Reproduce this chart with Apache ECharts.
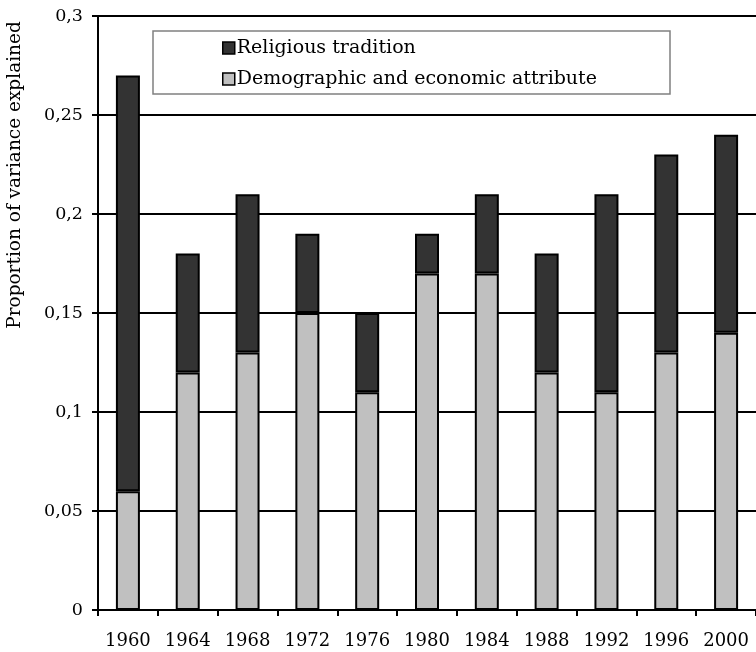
<!DOCTYPE html>
<html>
<head>
<meta charset="utf-8">
<script src="https://cdn.jsdelivr.net/npm/echarts@6/dist/echarts.min.js"></script>
<style>html,body{margin:0;padding:0;background:#fff}#c{width:756px;height:652px}</style>
</head>
<body>
<div id="c"></div>
<script>
var years = ['1960','1964','1968','1972','1976','1980','1984','1988','1992','1996','2000'];
var demographic = [0.06,0.12,0.13,0.15,0.11,0.17,0.17,0.12,0.11,0.13,0.14];
var religious = [0.21,0.06,0.08,0.04,0.04,0.02,0.04,0.06,0.10,0.10,0.10];
var yTicks = [0,0.05,0.1,0.15,0.2,0.25,0.3];

var FONT = 'DejaVu Serif';
var chart = echarts.init(document.getElementById('c'));
chart.setOption({
  animation: false,
  backgroundColor: '#fff',
  textStyle: {fontFamily: FONT, color: '#000'},
  grid: {left: 98, top: 16, bottom: 42, width: 660, containLabel: false},
  legend: {
    orient: 'vertical', left: 222, top: 37, itemGap: 9, z: 10,
    itemWidth: 12, itemHeight: 12, padding: 0,
    textStyle: {fontFamily: FONT, fontSize: 19, color: '#000', padding: [0,0,0,-3], lineHeight: 22},
    data: [
      {name: 'Religious tradition', icon: 'rect', itemStyle: {color: '#333333', borderColor: '#000', borderWidth: 1.5}},
      {name: 'Demographic and economic attribute', icon: 'rect', itemStyle: {color: '#c0c0c0', borderColor: '#000', borderWidth: 1.5}}
    ]
  },
  graphic: [
    {type: 'rect', shape: {x: 153, y: 31, width: 517, height: 63}, style: {fill: '#fff', stroke: '#808080', lineWidth: 1.5}, z: 5},
    {type: 'text', x: 15, y: 175, rotation: Math.PI/2, style: {text: 'Proportion of variance explained', font: '18.5px "DejaVu Serif"', fill: '#000', textAlign: 'center', textVerticalAlign: 'middle'}}
  ],
  xAxis: {
    type: 'category', data: years, boundaryGap: true,
    axisLine: {lineStyle: {color: '#000', width: 2}},
    axisTick: {show: true, alignWithLabel: false, length: 6, lineStyle: {color: '#000', width: 2}},
    axisLabel: {fontFamily: FONT, fontSize: 18, color: '#000', margin: 22, interval: 0}
  },
  yAxis: {
    type: 'value', min: 0, max: 0.3, interval: 0.05,
    axisLine: {show: true, lineStyle: {color: '#000', width: 2}},
    axisTick: {show: true, length: 6, lineStyle: {color: '#000', width: 2}},
    splitLine: {show: true, lineStyle: {color: '#000', width: 2}},
    axisLabel: {fontFamily: FONT, fontSize: 17.5, color: '#000', margin: 15,
      formatter: function(v){ var i = yTicks.findIndex(function(t){return Math.abs(t-v)<1e-9;}); return String(i>=0?yTicks[i]:v).replace('.', ','); }}
  },
  series: [
    {name: 'Demographic and economic attribute', type: 'bar', stack: 't', data: demographic, barWidth: 24,
     itemStyle: {color: '#c0c0c0', borderColor: '#000', borderWidth: 2}},
    {name: 'Religious tradition', type: 'bar', stack: 't', data: religious, barWidth: 24,
     itemStyle: {color: '#333333', borderColor: '#000', borderWidth: 2}}
  ]
});
</script>
</body>
</html>
